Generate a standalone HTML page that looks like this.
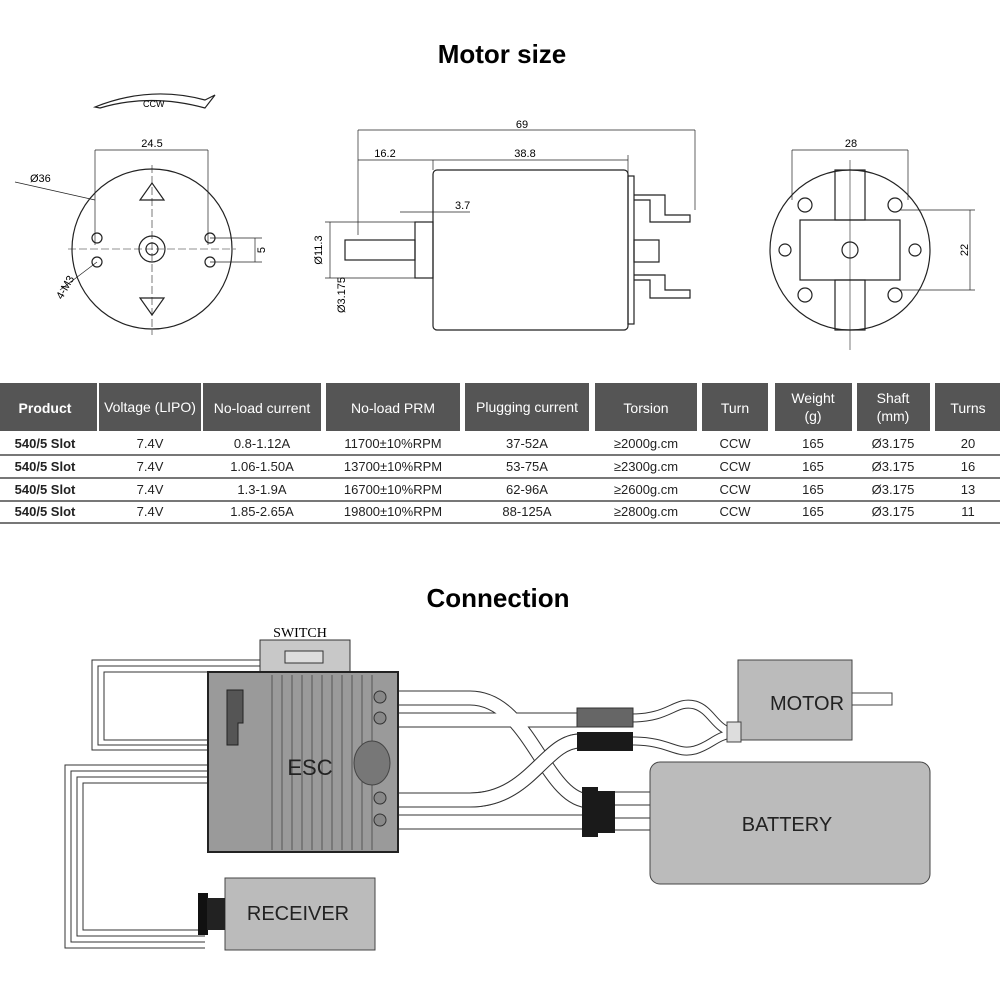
<!DOCTYPE html>
<html><head><meta charset="utf-8"><style>
body{margin:0;background:#fff;width:1000px;height:1000px;overflow:hidden;font-family:"Liberation Sans",sans-serif}
</style></head><body>
<svg width="1000" height="1000" viewBox="0 0 1000 1000" xmlns="http://www.w3.org/2000/svg" font-family="Liberation Sans, sans-serif">
<text x="502" y="63" font-size="26" font-weight="bold" text-anchor="middle">Motor size</text>
<!-- left front view -->
<g stroke="#222" fill="none" stroke-width="1.2">
<path d="M95 107 Q150 85 205 100 L215 95 L205 108 Q150 93 100 108 Z"/>
<circle cx="152" cy="249" r="80"/>
<circle cx="152" cy="249" r="13"/><circle cx="152" cy="249" r="6"/>
<circle cx="97" cy="238" r="5"/><circle cx="97" cy="262" r="5"/>
<circle cx="210" cy="238" r="5"/><circle cx="210" cy="262" r="5"/>
<path d="M140 200 L164 200 L152 183 Z"/><path d="M140 298 L164 298 L152 315 Z"/>
<line x1="95" y1="150" x2="95" y2="245" stroke-width="0.7"/><line x1="208" y1="150" x2="208" y2="245" stroke-width="0.7"/>
<line x1="95" y1="150" x2="208" y2="150" stroke-width="0.7"/>
<line x1="152" y1="165" x2="152" y2="335" stroke-width="0.6" stroke-dasharray="8 3"/>
<line x1="68" y1="249" x2="236" y2="249" stroke-width="0.6" stroke-dasharray="8 3"/>
<line x1="15" y1="182" x2="95" y2="200" stroke-width="0.7"/>
<line x1="210" y1="262" x2="262" y2="262" stroke-width="0.7"/><line x1="210" y1="238" x2="262" y2="238" stroke-width="0.7"/>
<line x1="255" y1="238" x2="255" y2="262" stroke-width="0.7"/>
<line x1="60" y1="290" x2="97" y2="262" stroke-width="0.7"/>
</g>
<text x="143" y="107" font-size="9">CCW</text>
<text x="152" y="147" font-size="11" text-anchor="middle">24.5</text>
<text x="30" y="182" font-size="11">Ø36</text>
<text x="265" y="250" font-size="11" transform="rotate(-90 265 250)" text-anchor="middle">5</text>
<text x="62" y="300" font-size="11" transform="rotate(-60 62 300)">4-M3</text>
<!-- middle side view -->
<g stroke="#222" fill="none" stroke-width="1.2">
<rect x="433" y="170" width="195" height="160" rx="4"/>
<rect x="628" y="176" width="6" height="148"/>
<path d="M634 195 L665 195 L665 215 L690 215 L690 222 L650 222 L650 200 L634 200"/>
<path d="M634 275 L665 275 L665 290 L690 290 L690 298 L650 298 L650 280 L634 280"/>
<rect x="634" y="240" width="25" height="22"/>
<rect x="415" y="222" width="18" height="56"/>
<rect x="345" y="240" width="70" height="20"/>
<line x1="358" y1="130" x2="358" y2="235" stroke-width="0.7"/><line x1="695" y1="130" x2="695" y2="210" stroke-width="0.7"/>
<line x1="358" y1="130" x2="695" y2="130" stroke-width="0.7"/>
<line x1="433" y1="160" x2="433" y2="170" stroke-width="0.7"/><line x1="358" y1="160" x2="628" y2="160" stroke-width="0.7"/>
<line x1="628" y1="155" x2="628" y2="176" stroke-width="0.7"/>
<line x1="400" y1="212" x2="470" y2="212" stroke-width="0.7"/>
<line x1="325" y1="222" x2="415" y2="222" stroke-width="0.7"/><line x1="325" y1="278" x2="415" y2="278" stroke-width="0.7"/>
<line x1="330" y1="222" x2="330" y2="278" stroke-width="0.7"/>
</g>
<text x="522" y="128" font-size="11" text-anchor="middle">69</text>
<text x="385" y="157" font-size="11" text-anchor="middle">16.2</text>
<text x="525" y="157" font-size="11" text-anchor="middle">38.8</text>
<text x="455" y="209" font-size="11">3.7</text>
<text x="322" y="250" font-size="11" transform="rotate(-90 322 250)" text-anchor="middle">Ø11.3</text>
<text x="345" y="295" font-size="11" transform="rotate(-90 345 295)" text-anchor="middle">Ø3.175</text>
<!-- right back view -->
<g stroke="#222" fill="none" stroke-width="1.2">
<circle cx="850" cy="250" r="80"/>
<rect x="800" y="220" width="100" height="60"/>
<rect x="835" y="170" width="30" height="50"/><rect x="835" y="280" width="30" height="50"/>
<circle cx="850" cy="250" r="8"/>
<circle cx="805" cy="205" r="7"/><circle cx="895" cy="205" r="7"/><circle cx="805" cy="295" r="7"/><circle cx="895" cy="295" r="7"/>
<circle cx="785" cy="250" r="6"/><circle cx="915" cy="250" r="6"/>
<line x1="792" y1="150" x2="792" y2="200" stroke-width="0.7"/><line x1="908" y1="150" x2="908" y2="200" stroke-width="0.7"/>
<line x1="792" y1="150" x2="908" y2="150" stroke-width="0.7"/>
<line x1="900" y1="210" x2="975" y2="210" stroke-width="0.7"/><line x1="900" y1="290" x2="975" y2="290" stroke-width="0.7"/>
<line x1="970" y1="210" x2="970" y2="290" stroke-width="0.7"/>
<line x1="850" y1="160" x2="850" y2="350" stroke-width="0.6"/>
</g>
<text x="851" y="147" font-size="11" text-anchor="middle">28</text>
<text x="968" y="250" font-size="11" transform="rotate(-90 968 250)" text-anchor="middle">22</text>
<!-- table header -->
<g fill="#555">
<rect x="0" y="383" width="97" height="48"/><rect x="99" y="383" width="102" height="48"/>
<rect x="203" y="383" width="118" height="48"/><rect x="326" y="383" width="134" height="48"/>
<rect x="465" y="383" width="124" height="48"/><rect x="595" y="383" width="102" height="48"/>
<rect x="702" y="383" width="66" height="48"/><rect x="775" y="383" width="77" height="48"/>
<rect x="857" y="383" width="73" height="48"/><rect x="935" y="383" width="65" height="48"/>
</g>
<g fill="#fff" font-size="14" text-anchor="middle">
<text x="45" y="413" font-weight="bold">Product</text>
<text x="150" y="412">Voltage (LIPO)</text>
<text x="262" y="413">No-load current</text>
<text x="393" y="413">No-load PRM</text>
<text x="527" y="412">Plugging current</text>
<text x="646" y="413">Torsion</text>
<text x="735" y="413">Turn</text>
<text x="813" y="403">Weight</text><text x="813" y="421">(g)</text>
<text x="893" y="403">Shaft</text><text x="893" y="421">(mm)</text>
<text x="968" y="413">Turns</text>
</g>
<g stroke="#777" stroke-width="2">
<line x1="0" y1="455" x2="1000" y2="455"/><line x1="0" y1="478" x2="1000" y2="478"/>
<line x1="0" y1="501" x2="1000" y2="501"/><line x1="0" y1="523" x2="1000" y2="523"/>
</g>
<g font-size="13" text-anchor="middle" fill="#222">
<g font-weight="bold"><text x="45" y="448">540/5 Slot</text><text x="45" y="471">540/5 Slot</text><text x="45" y="494">540/5 Slot</text><text x="45" y="516">540/5 Slot</text></g>
<text x="150" y="448">7.4V</text><text x="150" y="471">7.4V</text><text x="150" y="494">7.4V</text><text x="150" y="516">7.4V</text>
<text x="262" y="448">0.8-1.12A</text><text x="262" y="471">1.06-1.50A</text><text x="262" y="494">1.3-1.9A</text><text x="262" y="516">1.85-2.65A</text>
<text x="393" y="448">11700±10%RPM</text><text x="393" y="471">13700±10%RPM</text><text x="393" y="494">16700±10%RPM</text><text x="393" y="516">19800±10%RPM</text>
<text x="527" y="448">37-52A</text><text x="527" y="471">53-75A</text><text x="527" y="494">62-96A</text><text x="527" y="516">88-125A</text>
<text x="646" y="448">≥2000g.cm</text><text x="646" y="471">≥2300g.cm</text><text x="646" y="494">≥2600g.cm</text><text x="646" y="516">≥2800g.cm</text>
<text x="735" y="448">CCW</text><text x="735" y="471">CCW</text><text x="735" y="494">CCW</text><text x="735" y="516">CCW</text>
<text x="813" y="448">165</text><text x="813" y="471">165</text><text x="813" y="494">165</text><text x="813" y="516">165</text>
<text x="893" y="448">Ø3.175</text><text x="893" y="471">Ø3.175</text><text x="893" y="494">Ø3.175</text><text x="893" y="516">Ø3.175</text>
<text x="968" y="448">20</text><text x="968" y="471">16</text><text x="968" y="494">13</text><text x="968" y="516">11</text>
</g>
<text x="498" y="607" font-size="26" font-weight="bold" text-anchor="middle">Connection</text>
<!-- connection -->
<g stroke="#333" fill="none" stroke-width="1">
<path d="M260 660 H92 V750 H210"/><path d="M260 666 H98 V745 H210"/><path d="M260 672 H104 V740 H210"/>
<path d="M210 765 H65 V948 H205"/><path d="M210 771 H71 V942 H205"/><path d="M210 777 H77 V936 H205"/><path d="M210 783 H83 V930 H205"/>
</g>
<!-- band wires: outline then white -->
<g fill="none" stroke="#333" stroke-width="15">
<path id="w1" d="M385 698 H470 C530 698 545 801 590 801"/>
<path d="M385 720 H580"/>
<path d="M385 800 H470 C530 800 545 741 580 741"/>
<path d="M385 822 H590"/>
</g>
<g fill="none" stroke="#fff" stroke-width="13">
<path d="M385 698 H470 C530 698 545 801 590 801"/>
<path d="M385 720 H580"/>
</g>
<g fill="none" stroke="#333" stroke-width="15"><path d="M470 800 C530 800 545 741 580 741"/></g>
<g fill="none" stroke="#fff" stroke-width="13">
<path d="M385 800 H470 C530 800 545 741 580 741"/>
<path d="M385 822 H590"/>
</g>
<g fill="none" stroke="#333" stroke-width="9">
<path d="M632 718 C670 718 675 700 695 705 C712 710 715 730 735 733"/>
<path d="M632 741 C670 741 675 755 695 750 C712 745 715 736 735 733"/>
</g>
<g fill="none" stroke="#fff" stroke-width="7">
<path d="M632 718 C670 718 675 700 695 705 C712 710 715 730 735 733"/>
<path d="M632 741 C670 741 675 755 695 750 C712 745 715 736 735 733"/>
</g>
<g stroke="#333" stroke-width="1"><path d="M615 792 H652"/><path d="M615 805 H652"/><path d="M615 818 H652"/><path d="M615 830 H652"/></g>
<rect x="260" y="640" width="90" height="33" fill="#c8c8c8" stroke="#333"/>
<rect x="285" y="651" width="38" height="12" fill="#ddd" stroke="#333"/>
<text x="300" y="637" font-size="14" text-anchor="middle" font-family="Liberation Serif, serif">SWITCH</text>
<rect x="208" y="672" width="190" height="180" fill="#9a9a9a" stroke="#222" stroke-width="2"/>
<g stroke="#555" stroke-width="1">
<line x1="272" y1="675" x2="272" y2="850"/><line x1="282" y1="675" x2="282" y2="850"/><line x1="292" y1="675" x2="292" y2="850"/><line x1="302" y1="675" x2="302" y2="850"/><line x1="312" y1="675" x2="312" y2="850"/><line x1="322" y1="675" x2="322" y2="850"/><line x1="332" y1="675" x2="332" y2="850"/><line x1="342" y1="675" x2="342" y2="850"/><line x1="352" y1="675" x2="352" y2="850"/><line x1="362" y1="675" x2="362" y2="850"/><line x1="372" y1="675" x2="372" y2="850"/>
</g>
<path d="M227 690 H243 V723 H238 V745 H227 Z" fill="#555" stroke="#222"/>
<text x="310" y="775" font-size="22" text-anchor="middle" fill="#222">ESC</text>
<ellipse cx="372" cy="763" rx="18" ry="22" fill="#777" stroke="#444"/>
<g fill="#888" stroke="#333"><circle cx="380" cy="697" r="6"/><circle cx="380" cy="718" r="6"/><circle cx="380" cy="798" r="6"/><circle cx="380" cy="820" r="6"/></g>
<rect x="577" y="708" width="56" height="19" fill="#666" stroke="#333"/>
<rect x="577" y="732" width="56" height="19" fill="#1a1a1a"/>
<rect x="582" y="787" width="16" height="50" fill="#1a1a1a"/>
<rect x="597" y="791" width="18" height="42" fill="#1a1a1a"/>
<rect x="738" y="660" width="114" height="80" fill="#bbb" stroke="#444"/>
<rect x="852" y="693" width="40" height="12" fill="#fff" stroke="#444"/>
<rect x="727" y="722" width="14" height="20" fill="#ddd" stroke="#444"/>
<text x="807" y="710" font-size="20" text-anchor="middle" fill="#222">MOTOR</text>
<rect x="650" y="762" width="280" height="122" rx="10" fill="#bbb" stroke="#444"/>
<text x="787" y="831" font-size="20" text-anchor="middle" fill="#222">BATTERY</text>
<rect x="225" y="878" width="150" height="72" fill="#bbb" stroke="#444"/>
<rect x="198" y="893" width="10" height="42" fill="#111"/><rect x="207" y="898" width="18" height="32" fill="#222"/>
<text x="298" y="920" font-size="20" text-anchor="middle" fill="#222">RECEIVER</text>
</svg>
</body></html>
